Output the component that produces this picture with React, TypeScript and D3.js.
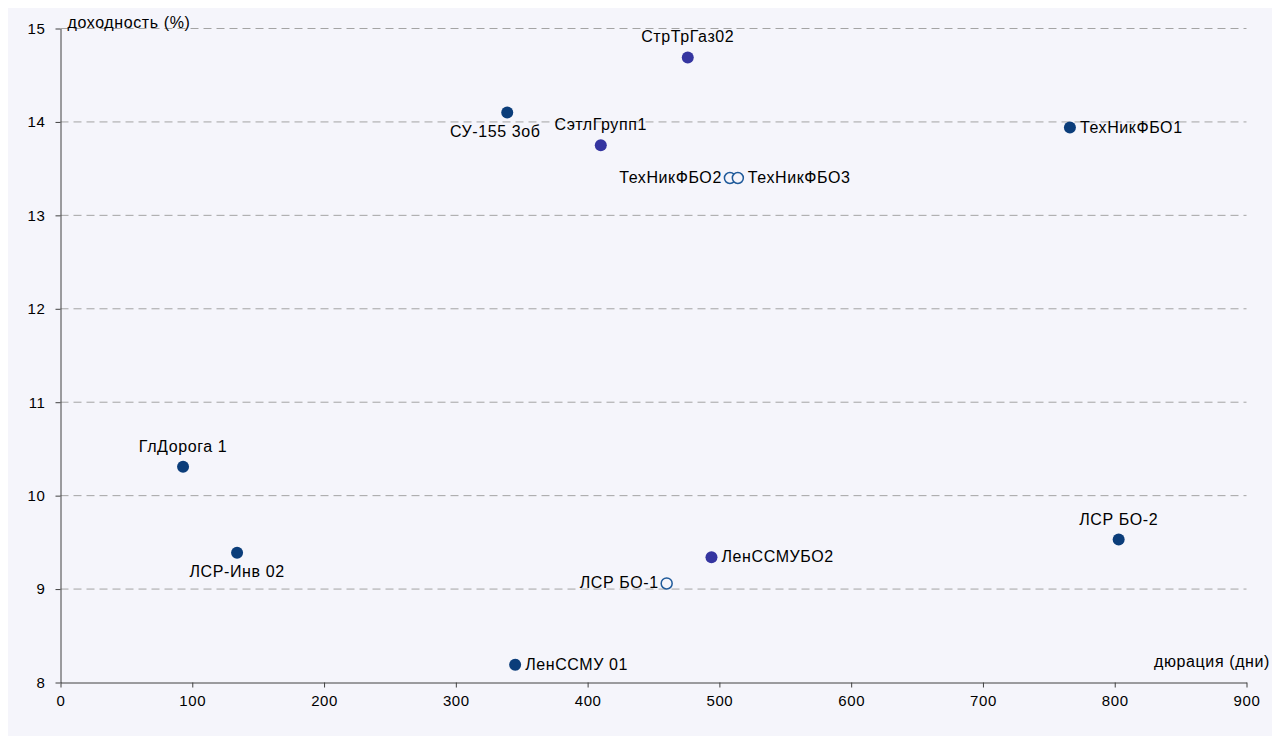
import { useEffect, useRef } from "react";
import * as d3 from "d3";

// облигации: название, дюрация (дни), доходность (%)
const bonds = [
  "ГлДорога 1",
  "ЛСР-Инв 02",
  "СУ-155 3об",
  "СэтлГрупп1",
  "СтрТрГаз02",
  "ТехНикФБО2",
  "ТехНикФБО3",
  "ТехНикФБО1",
  "ЛСР БО-2",
  "ЛенССМУБО2",
  "ЛСР БО-1",
  "ЛенССМУ 01",
];
const duration = [93, 134, 339, 410, 476, 508, 514, 766, 803, 494, 460, 345];
const yieldPct = [10.31, 9.39, 14.1, 13.75, 14.69, 13.4, 13.4, 13.94, 9.53, 9.34, 9.06, 8.19];
const kind = ["navy", "navy", "navy", "purple", "purple", "hollow", "hollow", "navy", "navy", "purple", "hollow", "navy"];
const labelSide = ["top", "bottom", "bottom-left", "top", "top", "left", "right", "right", "top", "right", "left", "right"];

const xTicks = [0, 100, 200, 300, 400, 500, 600, 700, 800, 900];
const yTicks = [8, 9, 10, 11, 12, 13, 14, 15];

const W = 1272;
const H = 736;

export default function App() {
  const svgRef = useRef<SVGSVGElement>(null);

  useEffect(() => {
    if (!svgRef.current) return;
    const svg = d3.select(svgRef.current);
    svg.selectAll("*").remove();

    const ox = 8, oy = 8; // svg offset in page
    const x = d3.scaleLinear().domain([0, 900]).range([60.5 - ox, 1246.5 - ox]);
    const y = d3.scaleLinear().domain([8, 15]).range([682.5 - oy, 28.5 - oy]);

    svg.append("rect").attr("width", W).attr("height", H).attr("fill", "#F5F5FB");

    const font = "'Liberation Sans', Arial, sans-serif";
    const fs = 15;
    const ls = 0.6;
    const lfs = 16;

    // grid
    svg
      .append("g")
      .selectAll("line")
      .data(yTicks.filter((t) => t > 8))
      .join("line")
      .attr("x1", x(0))
      .attr("x2", x(900))
      .attr("y1", (d) => y(d))
      .attr("y2", (d) => y(d))
      .attr("stroke", "#A4A4A4")
      .attr("stroke-dasharray", "8,5");

    const ax = svg
      .append("g")
      .attr("transform", `translate(0,${y(8)})`)
      .call(
        d3.axisBottom(x).tickValues(xTicks).tickFormat(d3.format("d")).tickSize(5).tickPadding(8).tickSizeOuter(0)
      );
    const ay = svg
      .append("g")
      .attr("transform", `translate(${x(0)},0)`)
      .call(
        d3.axisLeft(y).tickValues(yTicks).tickFormat(d3.format("d")).tickSize(5).tickPadding(10).tickSizeOuter(0)
      );
    [ax, ay].forEach((a) => {
      a.selectAll("path, line").attr("stroke", "#404040");
      a.selectAll("text")
        .attr("font-family", font)
        .attr("font-size", fs)
        .attr("letter-spacing", ls)
        .attr("fill", "#000");
    });

    svg
      .append("text")
      .attr("x", x(0) + 7)
      .attr("y", y(15) - 1)
      .attr("font-family", font)
      .attr("font-size", lfs)
      .attr("letter-spacing", ls)
      .text("доходность (%)");
    svg
      .append("text")
      .attr("x", 1270 - ox)
      .attr("y", y(8) - 16)
      .attr("text-anchor", "end")
      .attr("font-family", font)
      .attr("font-size", lfs)
      .attr("letter-spacing", ls)
      .text("дюрация (дни)");

    const data = bonds.map((name, i) => ({
      name,
      dur: duration[i],
      yld: yieldPct[i],
      kind: kind[i],
      side: labelSide[i],
    }));

    const fill: Record<string, string> = { navy: "#0B3D7A", purple: "#3535A0", hollow: "#F5F5FB" };
    const stroke: Record<string, string> = { navy: "#0B3D7A", purple: "#3535A0", hollow: "#1F5A9A" };

    const g = svg.append("g");
    g.selectAll("circle")
      .data(data)
      .join("circle")
      .attr("cx", (d) => x(d.dur))
      .attr("cy", (d) => y(d.yld))
      .attr("r", (d) => (d.kind === "hollow" ? 5.5 : 6))
      .attr("fill", (d) => fill[d.kind])
      .attr("stroke", (d) => stroke[d.kind])
      .attr("stroke-width", (d) => (d.kind === "hollow" ? 1.5 : 0));

    g.selectAll("text")
      .data(data)
      .join("text")
      .attr("font-family", font)
      .attr("font-size", lfs)
      .attr("letter-spacing", ls)
      .attr("fill", "#000")
      .attr("x", (d) => {
        const cx = x(d.dur);
        if (d.side === "left") return cx - 8;
        if (d.side === "right") return cx + 10;
        if (d.side === "bottom-left") return cx - 12;
        return cx;
      })
      .attr("y", (d) => {
        const cy = y(d.yld);
        if (d.side === "top") return cy - 15;
        if (d.side === "bottom" || d.side === "bottom-left") return cy + 24;
        return cy + 5;
      })
      .attr("text-anchor", (d) =>
        d.side === "left" ? "end" : d.side === "right" ? "start" : "middle"
      )
      .text((d) => d.name);
  }, []);

  return (
    <svg
      ref={svgRef}
      width={W}
      height={H}
      style={{ display: "block", position: "fixed", left: 8, top: 8 }}
    />
  );
}
